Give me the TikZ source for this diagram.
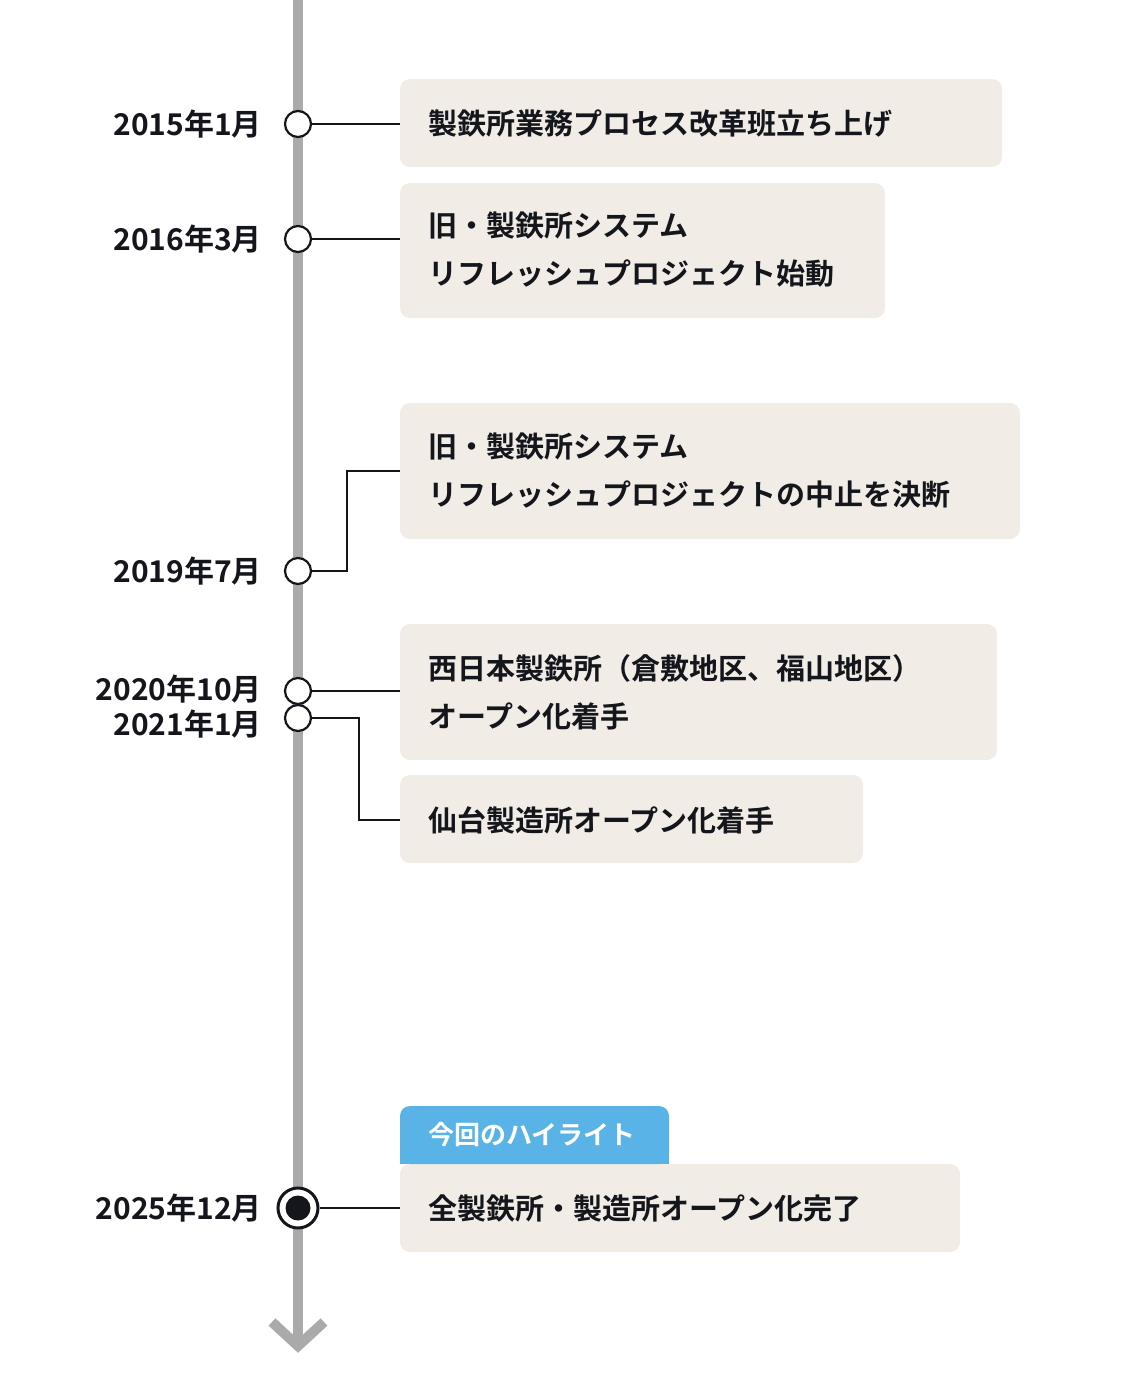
\documentclass[tikz,border=0pt]{standalone}
\usepackage{fontspec}
\setmainfont{Noto Sans CJK JP}[BoldFont={* Bold}]
\definecolor{boxc}{HTML}{F1EDE6}
\definecolor{linec}{HTML}{AAAAAA}
\definecolor{tagc}{HTML}{59B3E6}
\definecolor{ink}{HTML}{14161C}
\begin{document}
\begin{tikzpicture}[x=1pt,y=-1pt,
  box/.style={fill=boxc,rounded corners=10pt},
  txt/.style={anchor=west,font=\fontsize{29}{48}\selectfont\bfseries,text=ink,align=left,inner sep=0},
  date/.style={anchor=east,font=\fontsize{30}{30}\selectfont\bfseries,text=ink,inner sep=0},
  dot/.style={circle,draw=ink,line width=2.2pt,fill=white,minimum size=26pt,inner sep=0},
  conn/.style={draw=ink,line width=1.8pt}]
\useasboundingbox (0,0) rectangle (1120,1400);
% timeline
\draw[linec,line width=10pt] (298,0) -- (298,1340);
\draw[linec,line width=10pt,line join=miter,miter limit=10] (272,1322) -- (298,1346) -- (324,1322);
% boxes
\fill[box] (400,79) rectangle (1002,167);
\fill[box] (400,183) rectangle (885,318);
\fill[box] (400,403) rectangle (1020,539);
\fill[box] (400,624) rectangle (997,760);
\fill[box] (400,775) rectangle (863,863);
\fill[box] (400,1164) rectangle (960,1252);
\fill[tagc,rounded corners=10pt] (400,1164) -- (400,1106) -- (669,1106) -- (669,1164) -- cycle;
\fill[tagc] (400,1150) rectangle (669,1164);
\node[anchor=west,font=\fontsize{26}{26}\selectfont\bfseries,text=white,inner sep=0] (tag) at (428,1135) {今回のハイライト};
% coordinates of box left edges
\coordinate (b1) at (400,124);
\coordinate (b2) at (400,239);
\coordinate (b3) at (400,471);
\coordinate (b4) at (400,691);
\coordinate (b5) at (400,820);
\coordinate (b6) at (400,1208);
% dots
\node[dot] (d1) at (298,124) {};
\node[dot] (d2) at (298,239) {};
\node[dot] (d3) at (298,571) {};
\node[dot] (d4) at (298,691) {};
\node[dot] (d5) at (298,718) {};
\node[circle,draw=ink,line width=3pt,fill=white,minimum size=40pt,inner sep=0] (d6) at (298,1208) {};
\node[circle,fill=ink,minimum size=25pt,inner sep=0] (d6i) at (298,1208) {};
% connectors
\draw[conn] (d1) -- (b1);
\draw[conn] (d2) -- (b2);
\draw[conn] (d3.east) -- (347,571) -- (347,471) -- (b3);
\draw[conn] (d4) -- (b4);
\draw[conn] (d5.east) -- (359,718) -- (359,820) -- (b5);
\draw[conn] (d6) -- (b6);
% dates
\node[date] (t1) at (262,124) {2015年1月};
\node[date] (t2) at (262,239) {2016年3月};
\node[date] (t3) at (262,571) {2019年7月};
\node[date] (t4) at (262,689) {2020年10月};
\node[date] (t5) at (262,724) {2021年1月};
\node[date] (t6) at (262,1208) {2025年12月};
% texts
\node[txt] (x1) at (428,124) {製鉄所業務プロセス改革班立ち上げ};
\node[txt] (x2) at (428,250) {旧・製鉄所システム\\リフレッシュプロジェクト始動};
\node[txt] (x3) at (428,471) {旧・製鉄所システム\\リフレッシュプロジェクトの中止を決断};
\node[txt] (x4) at (428,692) {西日本製鉄所（倉敷地区、福山地区）\\オープン化着手};
\node[txt] (x5) at (428,820) {仙台製造所オープン化着手};
\node[txt] (x6) at (428,1208) {全製鉄所・製造所オープン化完了};
\end{tikzpicture}
\end{document}
